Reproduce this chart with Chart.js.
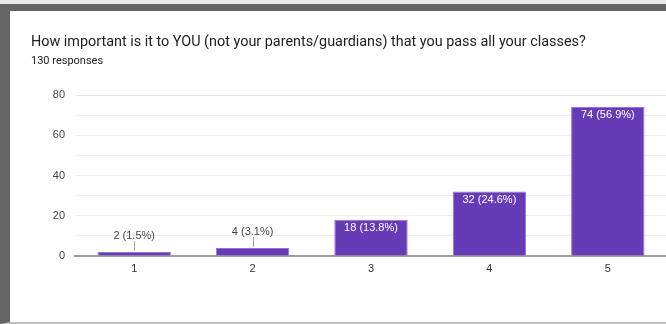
<!DOCTYPE html>
<html>
<head>
<meta charset="utf-8">
<script src="https://cdn.jsdelivr.net/npm/chart.js@4.4.1/dist/chart.umd.min.js"></script>
<style>
  html, body { margin: 0; padding: 0; width: 666px; height: 324px; overflow: hidden; background: #e9e9e9; }
  #frame {
    position: absolute; left: 0; top: 4px; width: 656px; height: 311px;
    border-left: 10px solid #646464; border-top: 7px solid #646464; border-bottom: 2px solid #bdbdbd;
    background: #fff;
  }
  #title {
    position: absolute; left: 31px; top: 33px; font-family: Roboto, sans-serif;
    font-size: 14.4px; color: #202124; white-space: nowrap;
  }
  #sub {
    position: absolute; left: 31px; top: 54px; font-family: Roboto, sans-serif;
    font-size: 11px; color: #202124; white-space: nowrap;
  }
  #wrap { position: absolute; left: 0; top: 0; width: 690px; height: 324px; }
</style>
</head>
<body>
<div id="frame"></div>
<div id="wrap"><canvas id="myChart"></canvas></div>
<div id="title">How important is it to YOU (not your parents/guardians) that you pass all your classes?</div>
<div id="sub">130 responses</div>
<script>
const categories = ['1', '2', '3', '4', '5'];
const counts = [2, 4, 18, 32, 74];
const totalResponses = 130;
const yTicks = [0, 20, 40, 60, 80];

const font = 'Liberation Sans, Arial, sans-serif';

// count + percentage on each bar; short bars get the label above with a leader line
const barLabels = {
  id: 'barLabels',
  afterDatasetsDraw(chart) {
    const ctx = chart.ctx;
    const meta = chart.getDatasetMeta(0);
    ctx.save();
    ctx.font = '11px ' + font;
    ctx.textAlign = 'center';
    ctx.textBaseline = 'middle';
    meta.data.forEach((bar, i) => {
      const v = counts[i];
      const text = v + ' (' + (v / totalResponses * 100).toFixed(1) + '%)';
      const h = bar.base - bar.y;
      if (h < 20) {
        ctx.strokeStyle = '#a6a6a6';
        ctx.lineWidth = 1;
        ctx.beginPath();
        ctx.moveTo(Math.round(bar.x) + 0.5, bar.y - 1);
        ctx.lineTo(Math.round(bar.x) + 0.5, bar.y - 11);
        ctx.stroke();
        ctx.fillStyle = '#444';
        ctx.fillText(text, bar.x, bar.y - 16);
      } else {
        ctx.fillStyle = '#ffffff';
        ctx.fillText(text, bar.x, bar.y + 8);
      }
    });
    ctx.restore();
  }
};

new Chart(document.getElementById('myChart'), {
  type: 'bar',
  data: {
    labels: categories,
    datasets: [{
      data: counts,
      backgroundColor: '#673ab7',
      borderColor: '#9475d0',
      borderWidth: 1,
      categoryPercentage: 1,
      barPercentage: 0.62
    }]
  },
  options: {
    responsive: true,
    maintainAspectRatio: false,
    animation: false,
    layout: { padding: { top: 95, left: 0, right: 23, bottom: 48 } },
    plugins: { legend: { display: false }, tooltip: { enabled: false } },
    scales: {
      x: {
        grid: { display: false, drawTicks: false },
        border: { display: true, color: '#9e9e9e', width: 2 },
        ticks: { padding: 6, color: '#333', font: { family: font, size: 11 } },
        afterFit(scale) { scale.height = 20; }
      },
      y: {
        min: 0,
        max: 80,
        grid: {
          drawTicks: false,
          color: (c) => c.tick.value === 0 ? 'rgba(0,0,0,0)' : (c.tick.value === 80 ? '#e3e3e3' : '#eeeeee')
        },
        border: { display: false },
        ticks: {
          stepSize: 10,
          padding: 10,
          color: '#444',
          font: { family: font, size: 11 },
          callback: (v) => yTicks.includes(v) ? v : ''
        },
        afterFit(scale) { scale.width = 75; }
      }
    }
  },
  plugins: [barLabels]
});
</script>
</body>
</html>
